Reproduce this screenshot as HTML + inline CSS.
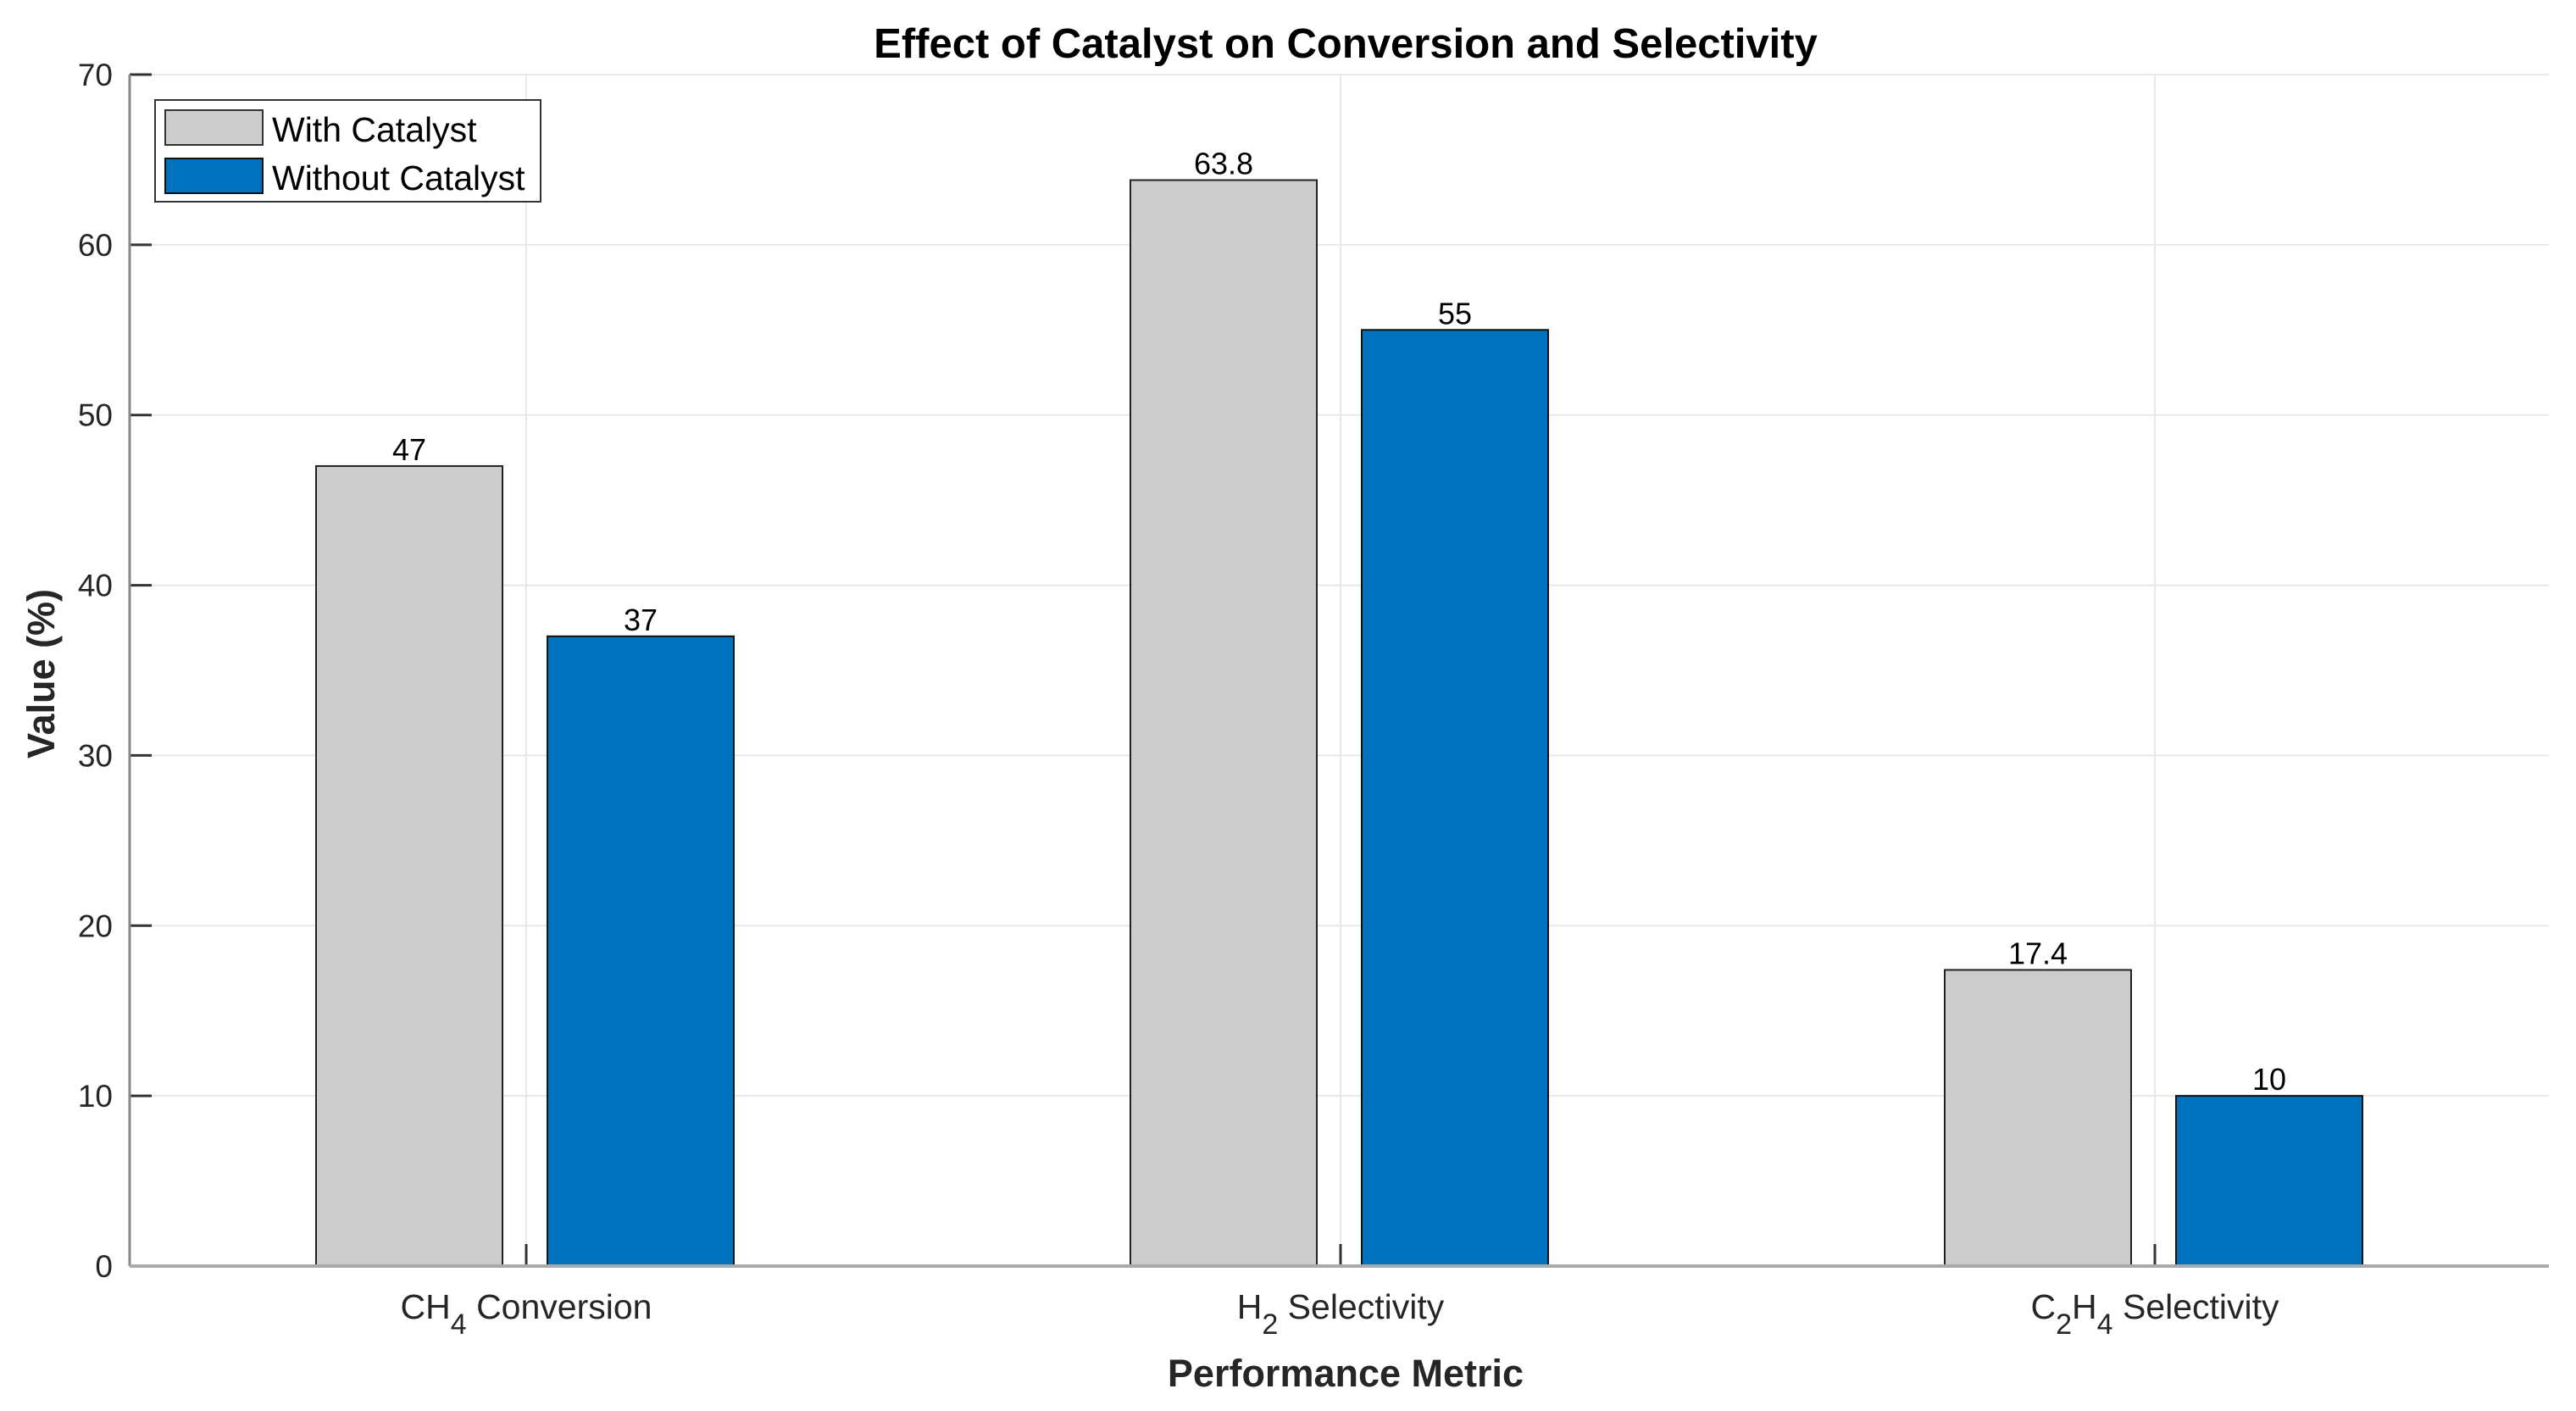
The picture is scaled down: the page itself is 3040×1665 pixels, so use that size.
<!DOCTYPE html>
<html><head><meta charset="utf-8"><style>
html,body{margin:0;padding:0;background:#fff;}
svg{display:block;font-family:"Liberation Sans",Arial,sans-serif;}
</style></head><body>
<svg id="chart" width="3040" height="1665" viewBox="0 0 3040 1665" xmlns="http://www.w3.org/2000/svg">
<g id="grid"></g>
<g id="bars"></g>
<g id="axes"></g>
<text x="1588" y="68" text-anchor="middle" font-size="49" font-weight="bold" fill="#000">Effect of Catalyst on Conversion and Selectivity</text>
<text x="1588" y="1636" text-anchor="middle" font-size="45" font-weight="bold" fill="#262626">Performance Metric</text>
<text transform="translate(64,795) rotate(-90)" text-anchor="middle" font-size="45" font-weight="bold" fill="#262626">Value (%)</text>
<g>
<rect x="183" y="118" width="455" height="120" fill="#fff" stroke="#333" stroke-width="2"/>
<rect x="195" y="130" width="115" height="41" fill="#cccccc" stroke="#333" stroke-width="2"/>
<text x="321" y="167" font-size="41" fill="#000">With Catalyst</text>
<rect x="195" y="187" width="115" height="41" fill="#0072bd" stroke="#111" stroke-width="2"/>
<text x="321" y="224" font-size="41" fill="#000">Without Catalyst</text>
</g>
</svg>
<script>
const categories = ["CH4 Conversion", "H2 Selectivity", "C2H4 Selectivity"];
const withCatalyst = [47, 63.8, 17.4];
const withoutCatalyst = [37, 55, 10];
const yTicks = [0, 10, 20, 30, 40, 50, 60, 70];
const valueLabelsWith = ["47", "63.8", "17.4"];
const valueLabelsWithout = ["37", "55", "10"];

const NS = "http://www.w3.org/2000/svg";
const L = 153, R = 3008, T = 88, B = 1494, YMAX = 70;
function yS(v){ return B - (B - T) * v / YMAX; }
function xS(i){ return L + 468 + i * 961; }
function mk(tag, attrs, parent, txt){
  const e = document.createElementNS(NS, tag);
  for (const k in attrs) e.setAttribute(k, attrs[k]);
  if (txt !== undefined) e.textContent = txt;
  parent.appendChild(e); return e;
}
const grid = document.getElementById('grid');
const bars = document.getElementById('bars');
const axes = document.getElementById('axes');

yTicks.forEach(t => {
  const y = yS(t);
  if (t > 0) {
    const g = mk('line', {x1:L, x2:R, y1:y, y2:y, stroke:'#e8e8e8', 'stroke-width':2}, grid);
    
    
  }
  const tk = mk('line', {x1:L, x2:L+26, y1:y, y2:y, stroke:'#333', 'stroke-width':3}, axes);
  
  
  const lb = mk('text', {x:L-20, y:y+13, 'text-anchor':'end', 'font-size':37, fill:'#262626'}, axes, String(t));
  
  
});

categories.forEach((c, i) => {
  const cx = xS(i);
  const g = mk('line', {x1:cx, x2:cx, y1:T, y2:B, stroke:'#e8e8e8', 'stroke-width':2}, grid);
  
  
  const bw = 220, off = 138;
  const vals = [withCatalyst[i], withoutCatalyst[i]];
  const labs = [valueLabelsWith[i], valueLabelsWithout[i]];
  const fills = ['#cccccc', '#0072bd'];
  const strokes = ['#222', '#111'];
  vals.forEach((v, s) => {
    const bx = cx + (s === 0 ? -off : off - 3) - bw/2;
    const r = mk('rect', {x:bx, y:yS(v), width:bw, height:B - yS(v), fill:fills[s], stroke:strokes[s], 'stroke-width':2}, bars);
    
    
    const t = mk('text', {x:bx + bw/2, y:yS(v) - 7, 'text-anchor':'middle', 'font-size':36, fill:'#000'}, bars, labs[s]);
    
    
  });
  const tk = mk('line', {x1:cx, x2:cx, y1:B, y2:B-26, stroke:'#333', 'stroke-width':3}, axes);
  
  
});

const xl = [['CH','4',' Conversion'],['H','2',' Selectivity'],['C','2','H','4',' Selectivity']];
xl.forEach((parts, i) => {
  const t = mk('text', {x:xS(i), y:1556, 'text-anchor':'middle', 'font-size':41, fill:'#262626'}, axes);
  
  
  parts.forEach((p, k) => {
    const isSub = /^\d$/.test(p);
    mk('tspan', isSub ? {dy:18, 'font-size':34} : (k > 0 ? {dy:-18} : {}), t, p);
  });
});

const ax1 = mk('line', {x1:L, x2:L, y1:T, y2:B, stroke:'#888', 'stroke-width':3}, axes);


const ax2 = mk('line', {x1:L, x2:R, y1:B, y2:B, stroke:'#aaa', 'stroke-width':4}, axes);


</script>
</body></html>
